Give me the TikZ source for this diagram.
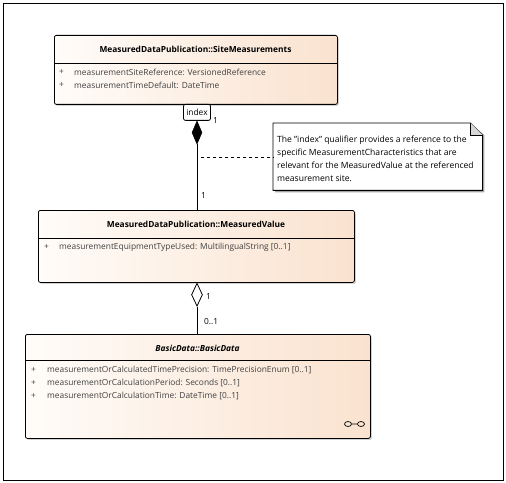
\documentclass[tikz,border=0pt]{standalone}
\usepackage{fontspec}
\setmainfont{Open Sans}
\usetikzlibrary{shapes.geometric,shadows,calc}
\definecolor{classL}{RGB}{255,252,249}
\definecolor{classR}{RGB}{250,226,207}
\definecolor{attrgray}{RGB}{64,64,64}
\definecolor{foldgray}{RGB}{215,215,215}
\newcommand{\umlfont}{\fontsize{8.4}{10}\selectfont}
\tikzstyle{classbox} = [rectangle, draw, line width=0.8bp, rounded corners=2bp,
    left color=classL, right color=classR, anchor=north west, inner sep=0,
    drop shadow={shadow xshift=1.5bp, shadow yshift=-1.5bp, fill=black!35}]
\tikzstyle{title} = [font=\umlfont\bfseries, inner sep=0]
\tikzstyle{attr} = [font=\umlfont, text=attrgray, inner sep=0, anchor=west]
\tikzstyle{mult} = [font=\umlfont, inner sep=0, anchor=west]
\tikzstyle{line} = [draw, line width=0.8bp]
\begin{document}
\begin{tikzpicture}[x=1bp, y=-1bp]
        \useasboundingbox (0,0) rectangle (506,483);
        \draw[line width=0.9bp] (3,3) rectangle (503,480);

        % Place nodes

        % 1. Site measurements
        \node [classbox, minimum width=283bp, minimum height=69bp] (site) at (54,35) {};
        \node [title] (siteT) at (195.5,49) {MeasuredDataPublication::SiteMeasurements};
        \path [line] (site.west |- 0,63) -- (site.east |- 0,63);
        \node [attr] (siteA1) at (59,72) {+};
        \node [attr] (siteA2) at (59,85) {+};
        \node [attr] at (74,72) {measurementSiteReference: VersionedReference};
        \node [attr] at (74,85) {measurementTimeDefault: DateTime};

        % qualifier and composition diamond
        \node [rectangle, draw, line width=0.8bp, rounded corners=2bp, fill=white,
               minimum width=27bp, minimum height=16bp, inner sep=0,
               font=\umlfont, anchor=north] (index) at (197,104) {index};
        \node [diamond, draw, fill=black, line width=0.6bp, minimum width=10bp,
               minimum height=23bp, inner sep=0, anchor=north] (comp) at (index.south) {};

        % 2. Measured value
        \node [classbox, minimum width=316bp, minimum height=72bp] (value) at (38,210) {};
        \node [title] (valueT) at (196,224) {MeasuredDataPublication::MeasuredValue};
        \path [line] (value.west |- 0,238) -- (value.east |- 0,238);
        \node [attr] at (44,247) {+};
        \node [attr] at (59,247) {measurementEquipmentTypeUsed: MultilingualString [0..1]};

        % aggregation diamond
        \node [diamond, draw, fill=white, line width=0.8bp, minimum width=11bp,
               minimum height=23bp, inner sep=0, anchor=north] (aggr) at (value.south -| comp.south) {};

        % 3. Basic data
        \node [classbox, minimum width=345bp, minimum height=104bp] (basic) at (25,334) {};
        \node [title, font=\umlfont\bfseries\itshape] (basicT) at (197.5,348) {BasicData::BasicData};
        \path [line] (basic.west |- 0,360) -- (basic.east |- 0,360);
        \node [attr] at (31,370) {+};
        \node [attr] at (31,383) {+};
        \node [attr] at (31,396) {+};
        \node [attr] at (47,370) {measurementOrCalculatedTimePrecision: TimePrecisionEnum [0..1]};
        \node [attr] at (47,383) {measurementOrCalculationPeriod: Seconds [0..1]};
        \node [attr] at (47,396) {measurementOrCalculationTime: DateTime [0..1]};
        \draw [line width=0.7bp] (348,424) ellipse (3.5bp and 2.5bp) (351.5,424) -- (357.5,424)
              (361,424) ellipse (3.5bp and 2.5bp);

        % 4. Note
        \node [rectangle, minimum width=209bp, minimum height=67bp, anchor=north west, inner sep=0] (note) at (273,123) {};
        \fill [black!35] ($(note.north west)+(2,2)$) -- ($(note.north east)+(-10,2)$) -- ($(note.north east)+(2,12)$)
              -- ($(note.south east)+(2,2)$) -- ($(note.south west)+(2,2)$) -- cycle;
        \filldraw [fill=white, line width=0.8bp] (note.north west) -- ($(note.north east)+(-12,0)$)
              -- ($(note.north east)+(0,12)$) -- (note.south east) -- (note.south west) -- cycle;
        \filldraw [fill=foldgray, line width=0.8bp] ($(note.north east)+(-12,0)$) -- ($(note.north east)+(-12,12)$)
              -- ($(note.north east)+(0,12)$);
        \node [font=\fontsize{8.6}{13}\selectfont, align=left, anchor=north west, inner sep=0] (noteT) at (277,136)
              {The "index" qualifier provides a reference to the\\
               specific MeasurementCharacteristics that are\\
               relevant for the MeasuredValue at the referenced\\
               measurement site.};

        % Draw edges
        \path [line] (comp.south) -- (value.north -| comp.south);
        \path [line] (aggr.south) -- (basic.north -| aggr.south);
        \draw [dashed, line width=0.7bp] (201,157) -- (note.west |- 0,157);

        % multiplicities
        \node [mult] at (213,121) {1};
        \node [mult] at (201,196) {1};
        \node [mult] at (206,297) {1};
        \node [mult] at (204,322) {0..1};
\end{tikzpicture}
\end{document}
